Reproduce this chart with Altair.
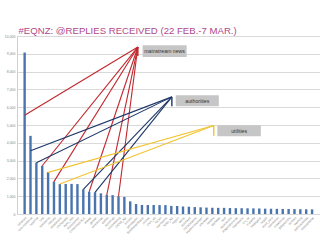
import altair as alt
import pandas as pd

# ---- data ----
accounts = [
    "nzherald", "nzcivildefence", "nzpolice", "tvnz", "telecomnz",
    "radionz", "vodafonenz", "chchquake", "eqnz_info", "eqnzcontact",
    "ChristchurchCC", "3news", "geonet", "nzredcross", "stuffnz",
    "eqnzmap", "bbcbreaking", "CERA_NZ", "oriconz", "johnkeypm",
    "BobParkerMayor", "cnnbrk", "chch_eq", "ECan", "meridiannz",
    "MSD_NZ", "nzgovt", "twitnz", "eqnzfeed", "chchstudents",
    "studentvolunteer", "abcnews", "reuters", "skynews", "nzdf",
    "aucklandnz", "otagodailytimes", "thepressnz", "ctv_nz", "moreFM",
    "theedgenz", "nzgeo", "eqnz_help", "cantabrian", "crowdmap",
    "googlecrisis", "nzlisten", "kiwiblog", "publicaddress", "eqnzupdates",
]
replies = [
    9070, 4390, 2880, 2710, 2340, 1820, 1680, 1690, 1690, 1680,
    1390, 1250, 1220, 1160, 1080, 1060, 1000, 960, 710, 560,
    510, 505, 505, 500, 500, 455, 450, 420, 410, 390,
    375, 360, 350, 345, 345, 335, 330, 325, 320, 315,
    310, 300, 295, 290, 285, 280, 275, 270, 265, 260,
]

groups = ["mainstream news", "authorities", "utilities"]
group_colors = ["#c1272d", "#1d3768", "#f2c32e"]

# bars each callout points at (bar index, value where the line touches)
news_bars = [1, 4, 6, 12, 15, 17]
news_vals = [5550, 2710, 1820, 1250, 1080, 1000]
auth_bars = [2, 3, 11, 13]
auth_vals = [3550, 2880, 1390, 1220]
util_bars = [5, 7]
util_vals = [2340, 1680]

# callout anchors / label boxes (data units)
anchor_x = [20.3, 26.1, 33.24]
anchor_y = [9380, 6580, 4975]
tick_y2 = [8880, 6057, 4403]
box_x = [21.1, 26.76, 33.85]
box_x2 = [28.62, 34.1, 41.27]
box_y = [9478, 6674, 4992]
box_y2 = [8822, 6057, 4375]

# ---- tables ----
bars = pd.DataFrame({"idx": list(range(1, len(replies) + 1)), "replies": replies})

rows = []
lid = 0
for g, bx, bv in [(0, news_bars, news_vals), (1, auth_bars, auth_vals), (2, util_bars, util_vals)]:
    for b, v in zip(bx, bv):
        rows.append({"grp": groups[g], "lid": lid, "o": 0, "x": b, "y": v})
        rows.append({"grp": groups[g], "lid": lid, "o": 1, "x": anchor_x[g], "y": anchor_y[g]})
        lid += 1
lines = pd.DataFrame(rows)

boxes = pd.DataFrame({
    "grp": groups, "ax": anchor_x, "ay": anchor_y, "ty2": tick_y2,
    "x": box_x, "x2": box_x2, "y": box_y, "y2": box_y2,
    "cx": [(a + b) / 2 for a, b in zip(box_x, box_x2)],
    "cy": [(a + b) / 2 for a, b in zip(box_y, box_y2)],
})

xs = alt.Scale(domain=[0.55, 50.5], nice=False, zero=False)
ys = alt.Scale(domain=[0, 10000], nice=False)
cs = alt.Scale(domain=groups, range=group_colors)

label_arr = "[" + ",".join("'" + a + "'" for a in accounts) + "]"

x_axis = alt.Axis(
    values=list(range(1, len(replies) + 1)), labelExpr=label_arr + "[datum.value-1]",
    labelAngle=-45, labelFontSize=3, labelColor="#777", labelOverlap=False,
    labelPadding=2, ticks=False, domain=False, grid=False, title=None,
    labelFont="Liberation Sans", labelBound=False, labelFlush=False)
y_axis = alt.Axis(
    values=list(range(0, 10001, 1000)), labelFontSize=3.5, labelColor="#888",
    ticks=False, domainColor="#d0d0d0", gridColor="#d9d9d9", labelPadding=2,
    title=None, labelFont="Liberation Sans", labelOverlap=False, labelFlush=False)

X = lambda f: alt.X(f, scale=xs, axis=x_axis)
Y = lambda f: alt.Y(f, scale=ys, axis=y_axis)

bar_layer = alt.Chart(bars).mark_bar(size=2.4, color="#4a74ad").encode(
    x=X("idx:Q"), y=Y("replies:Q"),
)

line_layer = alt.Chart(lines).mark_line(strokeWidth=1.1).encode(
    x=X("x:Q"), y=Y("y:Q"),
    color=alt.Color("grp:N", scale=cs, legend=None),
    detail="lid:N", order="o:Q",
)

tick_layer = alt.Chart(boxes).mark_rule(strokeWidth=1.4).encode(
    x=X("ax:Q"), y=Y("ay:Q"), y2="ty2:Q",
    color=alt.Color("grp:N", scale=cs, legend=None),
)

box_layer = alt.Chart(boxes).mark_rect(color="#c6c6c6").encode(
    x=X("x:Q"), x2="x2:Q", y=Y("y:Q"), y2="y2:Q",
)

text_layer = alt.Chart(boxes).mark_text(fontSize=5.2, color="#333", font="Liberation Sans").encode(
    x=X("cx:Q"), y=Y("cy:Q"), text="grp:N",
)

chart = alt.layer(bar_layer, line_layer, tick_layer, box_layer, text_layer).properties(
    width=303, height=178,
    autosize=alt.AutoSizeParams(type="none"),
    padding={"left": 17, "top": 36, "right": 0, "bottom": 26},
    title=alt.TitleParams(
        "#EQNZ: @REPLIES RECEIVED (22 FEB.-7 MAR.)", anchor="start", frame="group",
        fontSize=9.6, fontWeight="normal", color="#b0488a", font="Liberation Sans",
        offset=3, dx=1.5, dy=5),
).configure_view(stroke=None).configure(background="white")

chart.save("out.html", embed_options={"renderer": "svg", "actions": False})
